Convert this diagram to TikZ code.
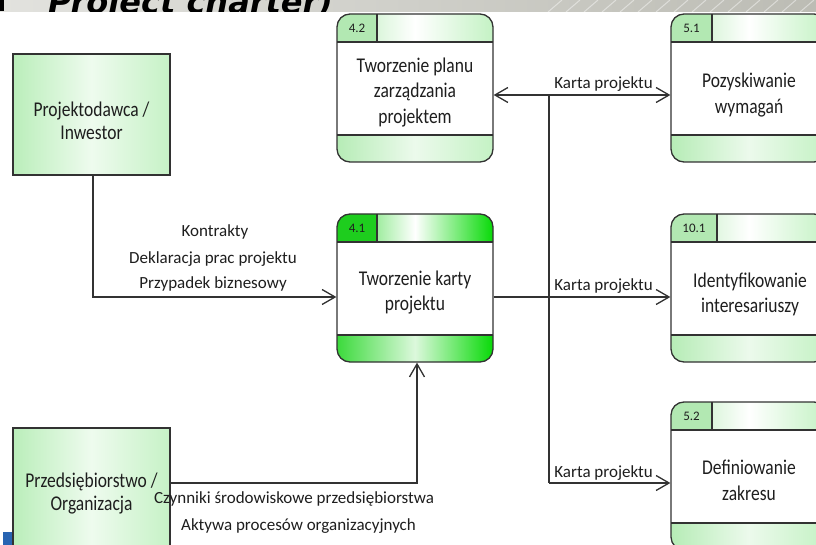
\documentclass[tikz,border=0pt]{standalone}
\usepackage{fontspec}
\setmainfont{Carlito}
\newfontfamily\titlefont{DejaVu Sans}
\usetikzlibrary{arrows.meta}
\definecolor{bordc}{RGB}{50,50,50}
\definecolor{txtc}{RGB}{30,30,30}
\definecolor{lgA}{RGB}{182,236,182}
\definecolor{lgB}{RGB}{196,242,196}
\definecolor{lgMid}{RGB}{236,250,236}
\definecolor{lgNum}{RGB}{178,232,178}
\definecolor{bgA}{RGB}{60,218,60}
\definecolor{bgB}{RGB}{8,218,8}
\definecolor{bgMid}{RGB}{220,248,220}
\definecolor{bgNum}{RGB}{30,205,30}
\definecolor{extA}{RGB}{186,238,186}
\definecolor{extB}{RGB}{198,242,198}
\definecolor{extMid}{RGB}{238,251,238}
\definecolor{bannerL}{RGB}{226,226,222}
\definecolor{bannerR}{RGB}{188,188,180}
\definecolor{slideblue}{RGB}{40,100,178}
\newcommand\vs[1]{\scalebox{1}[1.2]{#1}}
\begin{document}
\begin{tikzpicture}[x=1pt,y=-1pt,
  conn/.style={draw=bordc, line width=1.3pt},
  arr/.style={conn, -{Straight Barb[length=13pt,width=15pt]}},
  ext/.style={draw=bordc, line width=1.3pt, left color=extA, right color=extB, middle color=extMid, minimum width=157pt, inner sep=0pt},
  proc/.style n args={6}{draw=bordc, line width=1.3pt, fill=white, rounded corners=13pt,
    minimum width=156pt, minimum height=148pt, inner sep=0pt,
    path picture={
      \shade[sharp corners, left color=#2, right color=#3, middle color=white]
        (path picture bounding box.north west) rectangle ([yshift=-28pt]path picture bounding box.north east);
      \fill[sharp corners, #4]
        (path picture bounding box.north west) rectangle ([xshift=#1, yshift=-28pt]path picture bounding box.north west);
      \shade[sharp corners, left color=#2, right color=#6, middle color=#5]
        ([yshift=27pt]path picture bounding box.south west) rectangle (path picture bounding box.south east);
      \draw[sharp corners, bordc, line width=1.3pt]
        ([yshift=-28pt]path picture bounding box.north west) -- ([yshift=-28pt]path picture bounding box.north east);
      \draw[sharp corners, bordc, line width=1.3pt]
        ([xshift=#1]path picture bounding box.north west) -- ([xshift=#1, yshift=-28pt]path picture bounding box.north west);
      \draw[sharp corners, bordc, line width=1.3pt]
        ([yshift=27pt]path picture bounding box.south west) -- ([yshift=27pt]path picture bounding box.south east);
    }},
  lbl/.style={font=\fontsize{17}{20}\selectfont, inner sep=0pt, text=txtc},
  boxtxt/.style={font=\fontsize{17.5}{25.5}\selectfont, align=center, inner sep=0pt, text=txtc},
  exttxt/.style={font=\fontsize{17.5}{23}\selectfont, align=center, inner sep=0pt, text=txtc},
  numtxt/.style={font=\fontsize{13}{15}\selectfont, inner sep=0pt, text=txtc}
]
\useasboundingbox (0,0) rectangle (816,545);
\clip (0,0) rectangle (816,545);
\fill[white] (0,0) rectangle (816,545);

% slide banner
\shade[left color=bannerL, right color=bannerR] (0,0) rectangle (816,12);
\begin{scope}
  \clip (0,0) rectangle (816,12);
  \foreach \i in {548,566,...,816} \draw[white, opacity=0.45, line width=1pt] (\i,12) -- (\i+14,0);
  \fill[black] (0,0) rectangle (4,11);
  \node[anchor=base west, inner sep=0pt, font=\titlefont\bfseries\itshape\fontsize{32}{36}\selectfont] (title) at (48,14) {Project charter)};
\end{scope}
\fill[slideblue] (3,532) rectangle (12,545);

% external entities
\node[ext, minimum height=121pt] (inv) at (91.5,114.5) {};
\node[exttxt] (invt) at (91.5,121) {\vs{Projektodawca /}\\\vs{Inwestor}};
\node[ext, minimum height=130pt] (org) at (91.5,493) {};
\node[exttxt] (orgt) at (91.5,493.5) {\vs{Przedsiębiorstwo /}\\\vs{Organizacja}};

% processes
\node[proc={40pt}{lgA}{lgB}{lgNum}{lgMid}{lgB}] (b42) at (415,88) {};
\node[proc={40pt}{bgA}{bgB}{bgNum}{bgMid}{bgB}] (b41) at (415,288) {};
\node[proc={41pt}{lgA}{lgB}{lgNum}{lgMid}{lgB}] (b51) at (749,88) {};
\node[proc={46pt}{lgA}{lgB}{lgNum}{lgMid}{lgB}] (b101) at (749,288) {};
\node[proc={41pt}{lgA}{lgB}{lgNum}{lgMid}{lgB}] (b52) at (749,476) {};

\node[numtxt] (n42) at (357,28) {4.2};
\node[numtxt] (n41) at (357,228) {4.1};
\node[numtxt] (n51) at (691.5,28) {5.1};
\node[numtxt] (n101) at (694,228) {10.1};
\node[numtxt] (n52) at (691.5,416) {5.2};

\node[boxtxt] (t42) at (415,92.5) {\vs{Tworzenie planu}\\\vs{zarządzania}\\\vs{projektem}};
\node[boxtxt] (t41) at (415,292.5) {\vs{Tworzenie karty}\\\vs{projektu}};
\node[boxtxt] (t51) at (749,95) {\vs{Pozyskiwanie}\\\vs{wymagań}};
\node[boxtxt] (t101) at (750,294.5) {\vs{Identyfikowanie}\\\vs{interesariuszy}};
\node[boxtxt] (t52) at (749,480.5) {\vs{Definiowanie}\\\vs{zakresu}};

% connectors
\draw[arr] ([xshift=1.5pt]inv.south) |- ([yshift=-9pt]b41.west);
\draw[arr] ([yshift=10pt]org.east) -| ([xshift=2pt]b41.south);
\draw[arr] ([yshift=-9pt]b41.east) -- ([yshift=-9pt]b101.west);
\coordinate (jt) at (549,95);
\coordinate (jb) at (549,483);
\draw[conn] (jt) -- (jb);
\draw[arr] (jt) -- (jt -| b42.east);
\draw[arr] (jt) -- (jt -| b51.west);
\draw[arr] (jb) -- (jb -| b52.west);

% labels
\node[lbl, anchor=base] (l1) at (215,236.5) {Kontrakty};
\node[lbl, anchor=base] (l2) at (213,263) {Deklaracja prac projektu};
\node[lbl, anchor=base] (l3) at (213,288) {Przypadek biznesowy};
\node[lbl, anchor=base east] (k1) at (653,88.5) {Karta projektu};
\node[lbl, anchor=base east] (k2) at (653,290.5) {Karta projektu};
\node[lbl, anchor=base east] (k3) at (653,477.5) {Karta projektu};
\node[lbl, anchor=base] (c1) at (294,503) {Czynniki środowiskowe przedsiębiorstwa};
\node[lbl, anchor=base] (c2) at (298.5,530) {Aktywa procesów organizacyjnych};
\end{tikzpicture}
\end{document}
